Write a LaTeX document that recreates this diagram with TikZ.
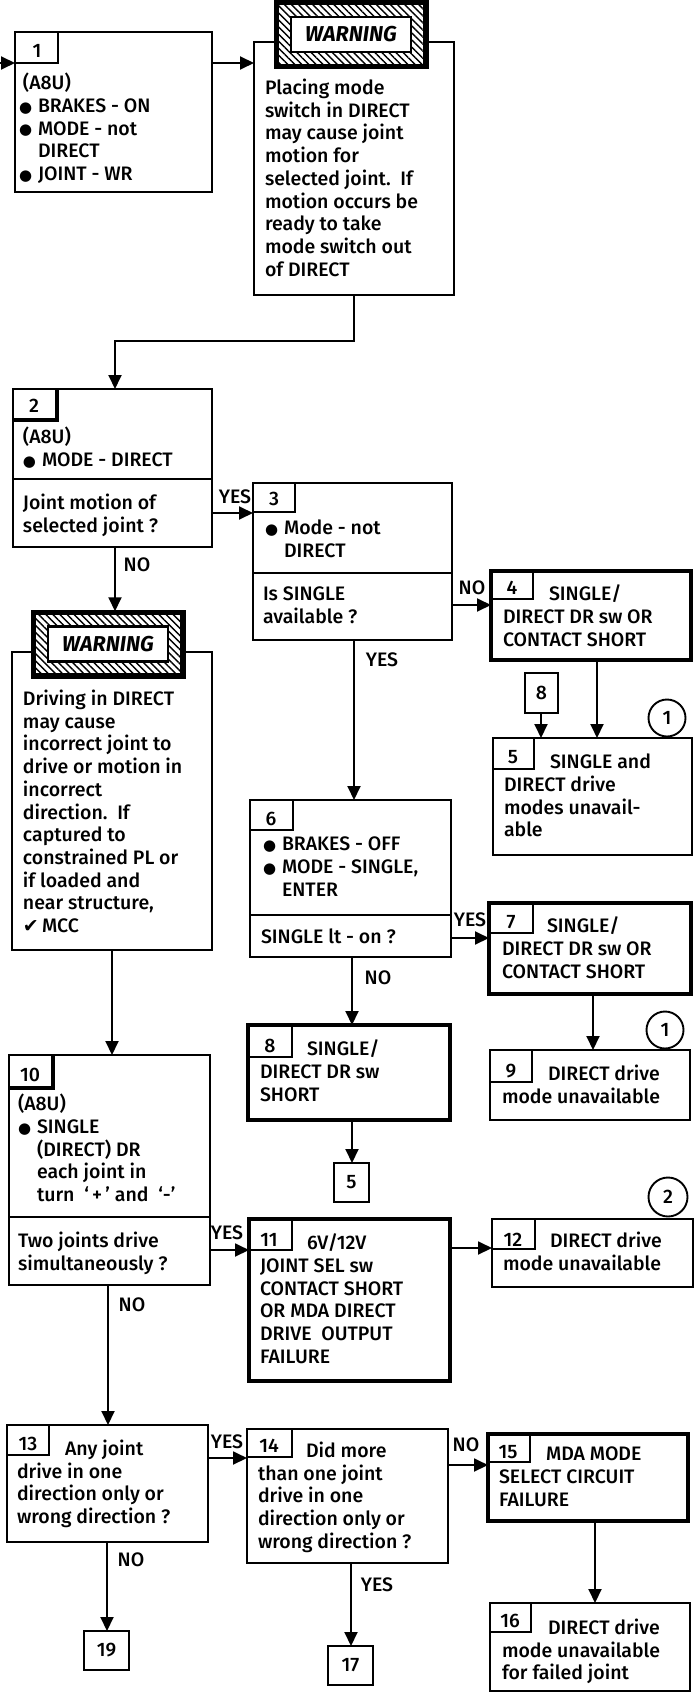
\documentclass[tikz,border=0pt]{standalone}
\usepackage{fontspec}
\setmainfont{Fira Sans}[UprightFont=* Medium,BoldFont=* Bold,ItalicFont=* Medium Italic,BoldItalicFont=* Bold Italic]
\newfontfamily\symf{DejaVu Sans}
\usetikzlibrary{arrows.meta,patterns.meta}
\newcommand\mainsz{\fontsize{19.5}{22.7}\selectfont}
\newcommand\warnsz{\fontsize{21.5}{21.5}\selectfont}
\newcommand\bul{\makebox[19pt][l]{\raisebox{0.3pt}{\symf\fontsize{15}{15}\selectfont ●}}}
\newcommand\ind{\hspace*{19pt}}
\newcommand\chk{{\symf\fontsize{19}{19}\selectfont ✔}}
\begin{document}
\begin{tikzpicture}[x=1pt,y=-1pt,
  box/.style={draw,line width=1.9pt,inner sep=0pt,outer sep=0pt,anchor=north west},
  tbox/.style={box,line width=4.8pt},
  con/.style={line width=1.9pt},
  thk/.style={line width=4.5pt},
  arr/.style={line width=1.9pt,-{Triangle[length=14pt,width=13pt]}},
  txt/.style={anchor=north west,inner sep=0pt,outer sep=0pt,align=left,font=\mainsz},
  lbl/.style={inner sep=0pt,font=\mainsz},
  num/.style={inner sep=0pt,font=\mainsz},
  circ/.style={draw,circle,line width=1.9pt,inner sep=0pt,minimum size=37pt,font=\mainsz},
  wlab/.style={draw,line width=3.5pt,fill=white,inner sep=0pt,minimum width=148pt,minimum height=62pt},
  wins/.style={draw,line width=2.5pt,fill=white,inner sep=0pt,minimum width=120pt,minimum height=35pt,font=\warnsz\bfseries\itshape},
  band/.style={pattern={Lines[angle=-45,distance=5pt,line width=1.4pt]}},
]
\useasboundingbox (0,0) rectangle (695,1693);
\fill[white] (0,0) rectangle (695,1693);

% ---------- boxes ----------
\node[box,minimum width=197pt,minimum height=160pt] (b1) at (15,32) {};
\node[box,minimum width=200pt,minimum height=253pt] (w1) at (254,42) {};
\node[box,minimum width=199pt,minimum height=158pt] (b2) at (13,389) {};
\node[box,minimum width=199pt,minimum height=157pt] (b3) at (253,483) {};
\node[tbox,minimum width=200pt,minimum height=89pt] (b4) at (491,571) {};
\node[box,minimum width=199pt,minimum height=117pt] (b5) at (493,738) {};
\node[box,minimum width=201pt,minimum height=157pt] (b6) at (250,800) {};
\node[tbox,minimum width=202pt,minimum height=91pt] (b7) at (489,903) {};
\node[tbox,minimum width=202pt,minimum height=95pt] (b8) at (248,1025) {};
\node[box,minimum width=200pt,minimum height=70pt] (b9) at (490,1050) {};
\node[box,minimum width=200pt,minimum height=298pt] (w2) at (12,652) {};
\node[box,minimum width=201pt,minimum height=230pt] (b10) at (9,1055) {};
\node[tbox,minimum width=201pt,minimum height=162pt] (b11) at (249,1219) {};
\node[box,minimum width=201pt,minimum height=68pt] (b12) at (492,1219) {};
\node[box,minimum width=201pt,minimum height=117pt] (b13) at (7,1425) {};
\node[box,minimum width=201pt,minimum height=134pt] (b14) at (247,1429) {};
\node[tbox,minimum width=200pt,minimum height=87pt] (b15) at (488,1434) {};
\node[box,minimum width=200pt,minimum height=88pt] (b16) at (490,1603) {};

% reference boxes
\node[box,minimum width=33pt,minimum height=40pt] (r8) at (525,673) {};
\node[num] (r8t) at (r8.center) {8};
\node[box,minimum width=35pt,minimum height=39pt] (r5) at (334,1163) {};
\node[num] (r5t) at (r5.center) {5};
\node[box,minimum width=45pt,minimum height=39pt] (r19) at (84,1631) {};
\node[num] (r19t) at (r19.center) {19};
\node[box,minimum width=45pt,minimum height=39pt] (r17) at (328,1646) {};
\node[num] (r17t) at (r17.center) {17};

% circles
\node[circ] (c1a) at (667,718) {1};
\node[circ] (c1b) at (665,1030) {1};
\node[circ,minimum size=39pt] (c2) at (668,1197) {2};

% dividers
\draw[con] (b2.west |- 0,479) -- (b2.east |- 0,479);
\draw[con] (b3.west |- 0,573) -- (b3.east |- 0,573);
\draw[con] (b6.west |- 0,915) -- (b6.east |- 0,915);
\draw[con] (b10.west |- 0,1217) -- (b10.east |- 0,1217);

% tabs
\draw[con] (b1.west |- 0,63) -| (58,32);
\draw[thk] (13,420) -| (57,389);
\draw[con] (b3.west |- 0,512) -| (295,483);
\draw[con] (b4.west |- 0,599) -| (533,571);
\draw[con] (b5.west |- 0,769) -| (534,738);
\draw[con] (b6.west |- 0,830) -| (293,800);
\draw[con] (b7.west |- 0,933) -| (533,903);
\draw[con] (b8.west |- 0,1057) -| (292,1025);
\draw[con] (b9.west |- 0,1082) -| (532,1050);
\draw[thk] (9,1088) -| (53,1055);
\draw[con] (b11.west |- 0,1250) -| (292,1219);
\draw[con] (b12.west |- 0,1249) -| (535,1219);
\draw[con] (b13.west |- 0,1455) -| (49,1425);
\draw[con] (b14.west |- 0,1457) -| (292,1429);
\draw[con] (b15.west |- 0,1462) -| (530,1434);
\draw[con] (b16.west |- 0,1632) -| (531,1603);

% tab numbers
\node[num] (n1) at (37,51) {1};
\node[num] (n2) at (34,406) {2};
\node[num] (n3) at (274,499) {3};
\node[num] (n4) at (512,588) {4};
\node[num] (n5) at (513,757) {5};
\node[num] (n6) at (271,819) {6};
\node[num] (n7) at (511,922) {7};
\node[num] (n8) at (270,1046) {8};
\node[num] (n9) at (511,1071) {9};
\node[num] (n10) at (30,1075) {10};
\node[num] (n11) at (269,1240) {11};
\node[num] (n12) at (513,1240) {12};
\node[num] (n13) at (28,1444) {13};
\node[num] (n14) at (269,1446) {14};
\node[num] (n15) at (508,1452) {15};
\node[num] (n16) at (510,1621) {16};

% warning labels
\node[wlab] (wl1) at (351,34.5) {};
\fill[band] (wl1.north west) rectangle (wl1.south east);
\node[wins] (wi1) at (wl1.center) {WARNING};
\draw[line width=3.5pt] (wl1.north west) rectangle (wl1.south east);

\node[wlab] (wl2) at (108,644) {};
\fill[band] (wl2.north west) rectangle (wl2.south east);
\node[wins] (wi2) at (wl2.center) {WARNING};
\draw[line width=3.5pt] (wl2.north west) rectangle (wl2.south east);

% ---------- texts ----------
\node[txt] (t1) at (19,73) {\hspace*{4pt}(A8U)\\\bul BRAKES - ON\\\bul MODE - not\\\ind DIRECT\\\bul JOINT - WR};
\node[txt] (tw1) at (265,79) {Placing mode\\switch in DIRECT\\may cause joint\\motion for\\selected joint.\ \ If\\motion occurs be\\ready to take\\mode switch out\\of DIRECT};
\node[txt] (t2a) at (23,427) {(A8U)\\\bul MODE - DIRECT};
\node[txt] (t2b) at (23,494) {Joint motion of\\selected joint ?};
\node[txt] (t3a) at (265,520) {\bul Mode - not\\\ind DIRECT};
\node[txt] (t3b) at (263,587) {Is SINGLE\\available ?};
\node[txt] (t4) at (503,585) {\hspace*{46pt}SINGLE/\\DIRECT DR sw OR\\CONTACT SHORT};
\node[txt] (t5) at (504,754) {\hspace*{46pt}SINGLE and\\DIRECT drive\\modes unavail-\\able};
\node[txt] (t6a) at (263,837) {\bul BRAKES - OFF\\\bul MODE - SINGLE,\\\ind ENTER};
\node[txt] (t6b) at (261,929) {SINGLE lt - on ?};
\node[txt] (t7) at (502,917) {\hspace*{45pt}SINGLE/\\DIRECT DR sw OR\\CONTACT SHORT};
\node[txt] (t8) at (260,1040) {\hspace*{47pt}SINGLE/\\DIRECT DR sw\\SHORT};
\node[txt] (t9) at (502,1065) {\hspace*{46pt}DIRECT drive\\mode unavailable};
\node[txt] (tw2) at (23,690) {Driving in DIRECT\\may cause\\incorrect joint to\\drive or motion in\\incorrect\\direction.\ \ If\\captured to\\constrained PL or\\if loaded and\\near structure,\\\chk\,MCC};
\node[txt] (t10a) at (18,1094) {(A8U)\\\bul SINGLE\\\ind (DIRECT) DR\\\ind each joint in\\\ind turn\ \ ‘\,+\,’ and\ \ ‘-’};
\node[txt] (t10b) at (18,1232) {Two joints drive\\simultaneously ?};
\node[txt] (t11) at (260,1234) {\hspace*{47pt}6V/12V\\JOINT SEL sw\\CONTACT SHORT\\OR MDA DIRECT\\DRIVE\ \ OUTPUT\\FAILURE};
\node[txt] (t12) at (503,1232) {\hspace*{47pt}DIRECT drive\\mode unavailable};
\node[txt] (t13) at (17,1440) {\hspace*{48pt}Any joint\\drive in one\\direction only or\\wrong direction ?};
\node[txt] (t14) at (258,1442) {\hspace*{48pt}Did more\\than one joint\\drive in one\\direction only or\\wrong direction ?};
\node[txt] (t15) at (499,1447) {\hspace*{47pt}MDA MODE\\SELECT CIRCUIT\\FAILURE};
\node[txt] (t16) at (502,1619) {\hspace*{46pt}DIRECT drive\\mode unavailable\\for failed joint};

% ---------- connectors ----------
\coordinate (in) at (0,63);
\draw[arr] (in) -- (b1.west |- in);
\draw[arr] (b1.east |- in) -- (w1.west |- in);
\draw[arr] (w1.south) |- (115,341) -- (b2.north -| 115,0);
\draw[arr] (b2.east |- 0,513) -- (b3.west |- 0,513);
\draw[arr] (b2.south -| 115,0) -- (wl2.north -| 115,0);
\draw[arr] (b3.east |- 0,605) -- (b4.west |- 0,605);
\draw[arr] (b3.south -| 354,0) -- (b6.north -| 354,0);
\draw[arr] (r8.south -| 541,0) -- (b5.north -| 541,0);
\draw[arr] (b4.south -| 597,0) -- (b5.north -| 597,0);
\draw[arr] (b6.east |- 0,938) -- (b7.west |- 0,938);
\draw[arr] (b6.south -| 352,0) -- (b8.north -| 352,0);
\draw[arr] (b7.south -| 593,0) -- (b9.north -| 593,0);
\draw[arr] (b8.south -| 352,0) -- (r5.north -| 352,0);
\draw[arr] (w2.south -| 112,0) -- (b10.north -| 112,0);
\draw[arr] (b10.east |- 0,1250) -- (b11.west |- 0,1250);
\draw[arr] (b11.east |- 0,1248) -- (b12.west |- 0,1248);
\draw[arr] (b10.south -| 108,0) -- (b13.north -| 108,0);
\draw[arr] (b13.east |- 0,1458) -- (b14.west |- 0,1458);
\draw[arr] (b14.east |- 0,1465) -- (b15.west |- 0,1465);
\draw[arr] (b13.south -| 107,0) -- (r19.north -| 107,0);
\draw[arr] (b14.south -| 351,0) -- (r17.north -| 351,0);
\draw[arr] (b15.south -| 595,0) -- (b16.north -| 595,0);

% ---------- labels ----------
\node[lbl] (l1) at (235,497) {YES};
\node[lbl] (l2) at (137,565) {NO};
\node[lbl] (l3) at (472,588) {NO};
\node[lbl] (l4) at (382,660) {YES};
\node[lbl] (l5) at (470,920) {YES};
\node[lbl] (l6) at (378,978) {NO};
\node[lbl] (l7) at (227,1233) {YES};
\node[lbl] (l8) at (132,1305) {NO};
\node[lbl] (l9) at (227,1442) {YES};
\node[lbl] (l10) at (466,1445) {NO};
\node[lbl] (l11) at (131,1560) {NO};
\node[lbl] (l12) at (377,1585) {YES};
\end{tikzpicture}
\end{document}
